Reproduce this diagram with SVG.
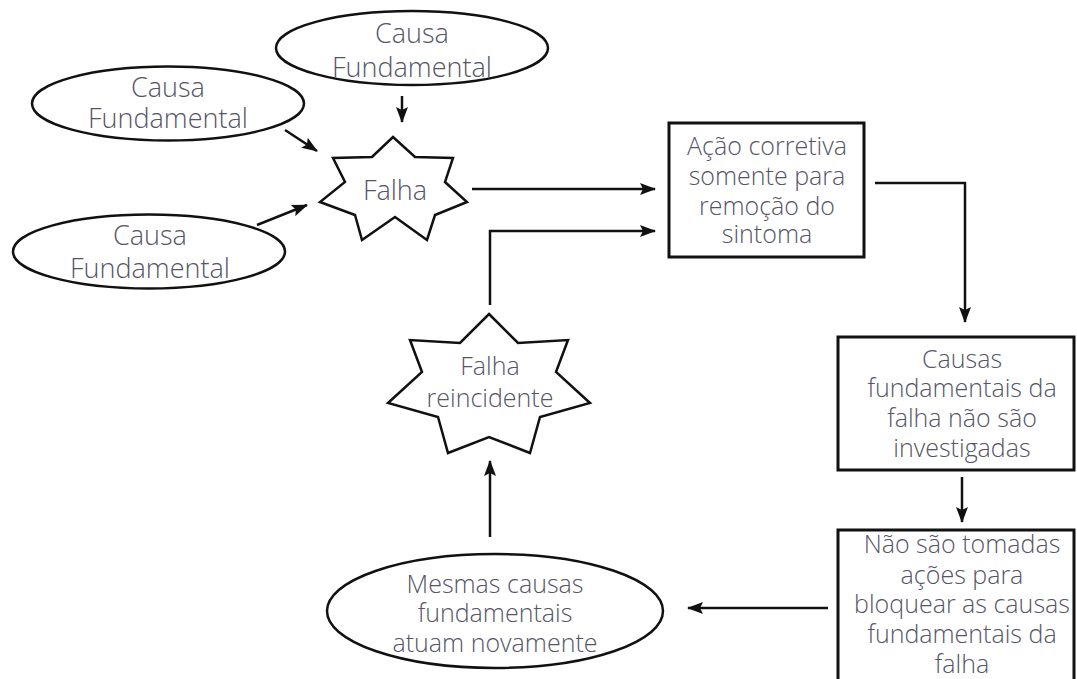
<svg xmlns="http://www.w3.org/2000/svg" width="1077" height="679" viewBox="0 0 1077 679">
<defs>
<style>
.shape{fill:#fff;stroke:#111;stroke-width:2.5}
.box{fill:#fff;stroke:#111;stroke-width:3}
.lbl{font-family:"Open Sans","Liberation Sans",sans-serif;font-weight:300;font-size:25px;fill:#555566;text-anchor:middle}
.big{font-size:27px}
.conn{fill:none;stroke:#111;stroke-width:2.5}
</style>
<marker id="ah" markerUnits="userSpaceOnUse" markerWidth="16" markerHeight="12" refX="15" refY="6" orient="auto">
<path d="M0,0 L16,6 L0,12 L3,6 Z" fill="#111"/>
</marker>
</defs>
<rect width="1077" height="679" fill="#fff"/>

<g id="connectors">
<line class="conn" x1="285" y1="130" x2="317" y2="151" marker-end="url(#ah)"/>
<line class="conn" x1="257" y1="225" x2="307" y2="205" marker-end="url(#ah)"/>
<line class="conn" x1="402" y1="96" x2="402" y2="122" marker-end="url(#ah)"/>
<line class="conn" x1="472" y1="189" x2="655" y2="189" marker-end="url(#ah)"/>
<path class="conn" d="M875,183 H965 V322" marker-end="url(#ah)"/>
<path class="conn" d="M962,477 V522" marker-end="url(#ah)"/>
<path class="conn" d="M828,608 H688" marker-end="url(#ah)"/>
<path class="conn" d="M490,537 V461" marker-end="url(#ah)"/>
<path class="conn" d="M490,305 V231 H655" marker-end="url(#ah)"/>
</g>

<g id="causa-top">
<ellipse class="shape" cx="412" cy="48" rx="136" ry="37"/>
<text class="lbl big" x="412" y="43">Causa</text>
<text class="lbl big" x="412" y="77">Fundamental</text>
</g>

<g id="causa-left1">
<ellipse class="shape" cx="168" cy="103.5" rx="136" ry="37"/>
<text class="lbl big" x="168" y="97">Causa</text>
<text class="lbl big" x="168" y="128">Fundamental</text>
</g>

<g id="causa-left2">
<ellipse class="shape" cx="149" cy="251.5" rx="136" ry="37"/>
<text class="lbl big" x="150" y="245">Causa</text>
<text class="lbl big" x="150" y="278">Fundamental</text>
</g>

<g id="falha">
<polygon class="shape" points="393,137 415,157 453,158 445,182 467,202 435,215 427,240 395,217 362,240 355,215 320,202 345,182 333,158 372,157"/>
<text class="lbl big" x="395" y="200">Falha</text>
</g>

<g id="acao-corretiva">
<rect class="box" x="669" y="123" width="195" height="134"/>
<text class="lbl" x="767" y="155">Ação corretiva</text>
<text class="lbl" x="767" y="185">somente para</text>
<text class="lbl" x="767" y="215">remoção do</text>
<text class="lbl" x="767" y="243">sintoma</text>
</g>

<g id="causas-nao-investigadas">
<rect class="box" x="838" y="337" width="236" height="133"/>
<text class="lbl" x="962" y="368">Causas</text>
<text class="lbl" x="962" y="397">fundamentais da</text>
<text class="lbl" x="962" y="427">falha não são</text>
<text class="lbl" x="962" y="457">investigadas</text>
</g>

<g id="nao-tomadas">
<rect class="box" x="838" y="530" width="236" height="155"/>
<text class="lbl" x="962" y="553">Não são tomadas</text>
<text class="lbl" x="962" y="584">ações para</text>
<text class="lbl" x="962" y="613">bloquear as causas</text>
<text class="lbl" x="962" y="643">fundamentais da</text>
<text class="lbl" x="962" y="673">falha</text>
</g>

<g id="mesmas-causas">
<ellipse class="shape" cx="495" cy="611" rx="168" ry="57"/>
<text class="lbl" x="495" y="593">Mesmas causas</text>
<text class="lbl" x="495" y="622">fundamentais</text>
<text class="lbl" x="495" y="652">atuam novamente</text>
</g>

<g id="falha-reincidente">
<polygon class="shape" points="489,314 518,343 568,340 556,372 590,403 540,417 530,453 489,437 448,453 438,417 388,403 422,372 410,340 460,343"/>
<text class="lbl" x="490" y="375">Falha</text>
<text class="lbl" x="490" y="407">reincidente</text>
</g>
</svg>
